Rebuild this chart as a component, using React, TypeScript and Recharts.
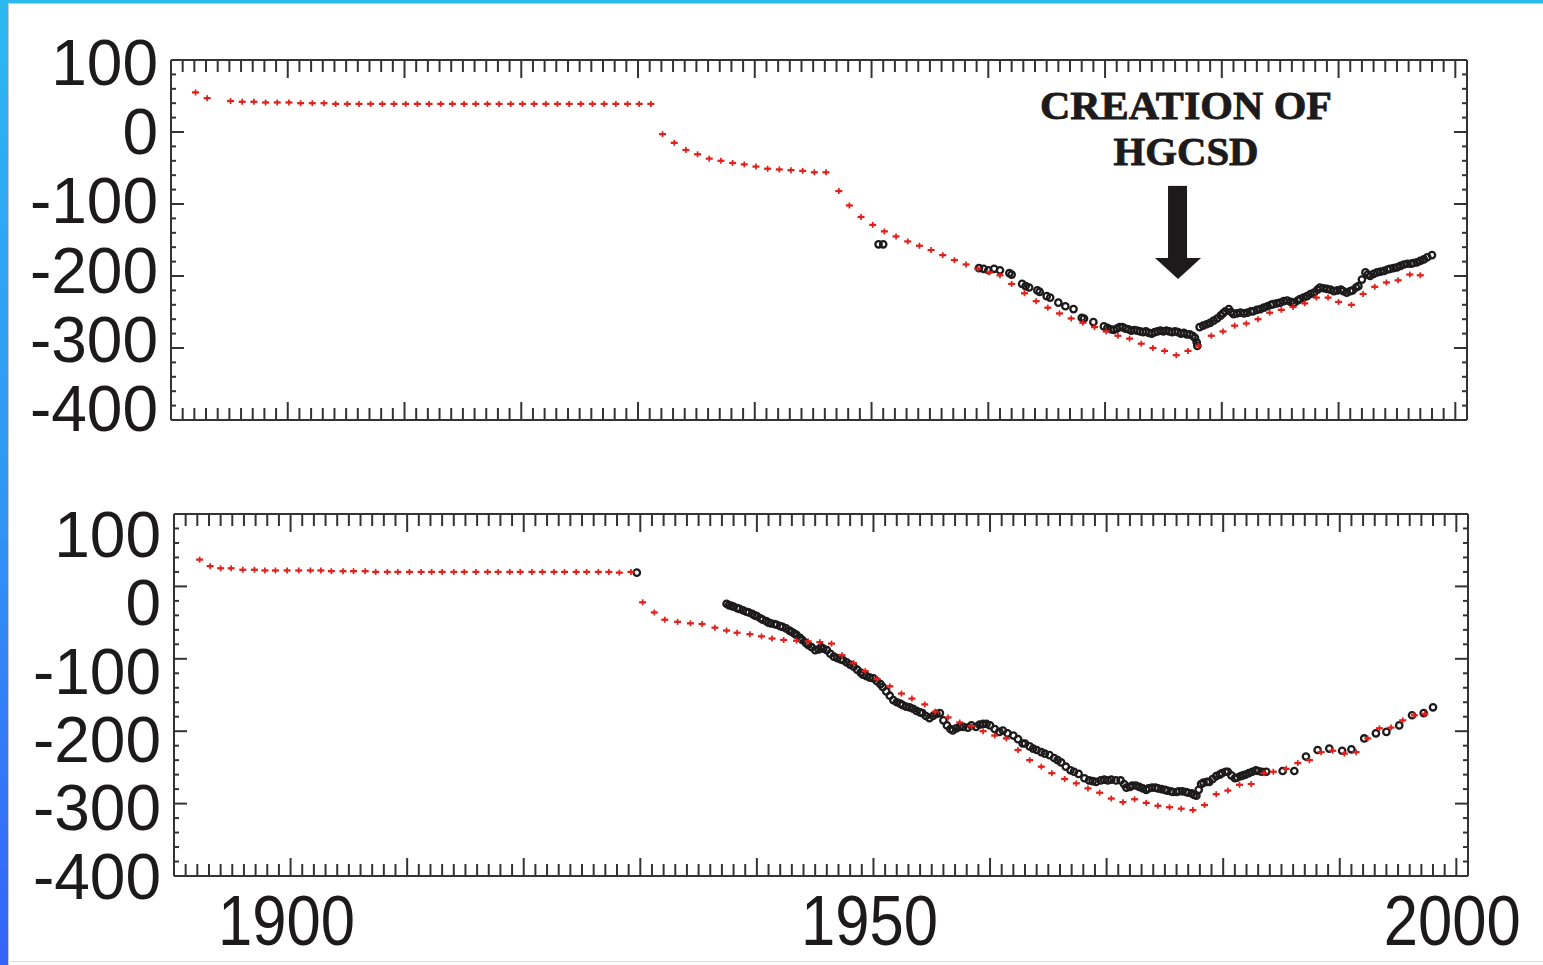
import React from 'react';
import { ScatterChart, Scatter, XAxis, YAxis, ReferenceDot } from 'recharts';

type Pt = [number, number];

// axes: a tick every year (long every decade), a tick every 20 (long every 100)
const yearTicks = Array.from({ length: 110 }, (_, i) => 1891 + i);
const yearLabels = [1900, 1950, 2000];
const valueTicks = [80, 60, 40, 20, 0, -20, -40, -60, -80, -100, -120, -140, -160, -180, -200, -220, -240, -260, -280, -300, -320, -340, -360, -380];
const valueLabels = [100, 0, -100, -200, -300, -400];

const yearDomain = [1890, 2001];
const valueDomain = [-400, 100];
// the printed numbers sit a little off their ticks in the original
const topLabelDomain = [-416.7, 102.3];
const bottomLabelDomain = [-400.4, 129.1];

// top panel: red crosses
const topRed: Pt[] = [
  [1892.1, 55], [1893.1, 47], [1895.1, 43], [1896.1, 42], [1897.1, 42], [1898.1, 41], [1899.1, 41], [1900.1, 41],
  [1901.1, 40], [1902.1, 40], [1903.1, 40], [1904.1, 39], [1905.1, 39], [1906.1, 39], [1907.1, 39], [1908.1, 39],
  [1909.1, 39], [1910.1, 39], [1911.1, 39], [1912.1, 39], [1913.1, 39], [1914.1, 39], [1915.1, 39], [1916.1, 39],
  [1917.1, 39], [1918.1, 39], [1919.1, 39], [1920.1, 39], [1921.1, 39], [1922.1, 39], [1923.1, 39], [1924.1, 39],
  [1925.1, 39], [1926.1, 39], [1927.1, 39], [1928.1, 39], [1929.1, 39], [1930.1, 39], [1931.1, 39],
  [1932.1, -3], [1933.1, -15], [1934.1, -25], [1935.1, -31], [1936.1, -37], [1937.1, -40], [1938.1, -43],
  [1939.1, -45], [1940.1, -48], [1941.1, -51], [1942.1, -52], [1943.1, -53], [1944.1, -54], [1945.1, -56],
  [1946.1, -56], [1947.2, -82], [1948.1, -102], [1949.1, -118], [1950.1, -129], [1951.1, -138], [1952.1, -145],
  [1953.1, -152], [1954.1, -158], [1955.1, -164], [1956.1, -171], [1957.1, -178], [1958.1, -184], [1959.1, -190],
  [1960.1, -195], [1961.0, -199], [1962.0, -211], [1963.1, -224], [1964.1, -235], [1965.1, -244], [1966.1, -252],
  [1967.1, -259], [1968.1, -265], [1969.1, -271], [1970.1, -277], [1971.1, -283], [1972.1, -287], [1973.1, -294],
  [1974.1, -300], [1975.1, -304], [1976.1, -310], [1977.1, -304], [1978.0, -297], [1979.1, -283], [1980.1, -277],
  [1981.1, -269], [1982.1, -266], [1983.1, -260], [1984.1, -251], [1985.1, -247], [1986.1, -243], [1987.1, -238],
  [1988.1, -230], [1989.1, -230], [1990.0, -236], [1991.1, -240], [1992.1, -225], [1993.1, -215], [1994.1, -209],
  [1995.1, -206], [1996.1, -198], [1997.0, -199],
];

// top panel: black circles
const topGauge: Pt[] = [
  [1950.6, -156], [1951.0, -156],
  [1959.2, -189], [1959.6, -190], [1960.0, -192], [1960.5, -190], [1961.0, -192], [1961.8, -196], [1962.0, -198],
  [1962.9, -211], [1963.2, -214], [1963.5, -216], [1964.2, -220], [1964.4, -222], [1965.0, -228], [1965.3, -230],
  [1966.0, -237], [1966.6, -242], [1967.3, -246], [1968.0, -258], [1968.2, -259], [1969.0, -264], [1969.9, -270],
  [1970.2, -272], [1970.5, -274], [1970.75, -275], [1971.0, -273], [1971.25, -271], [1971.5, -271], [1971.75, -273],
  [1972.0, -274], [1972.25, -276], [1972.5, -275], [1972.75, -276], [1973.0, -277], [1973.25, -278], [1973.5, -277],
  [1973.75, -279], [1974.0, -280], [1974.25, -278], [1974.5, -277], [1974.75, -276], [1975.0, -277], [1975.25, -276],
  [1975.5, -277], [1975.75, -278], [1976.0, -277], [1976.25, -278], [1976.5, -280], [1976.75, -279], [1977.0, -281],
  [1977.25, -281], [1977.5, -283], [1977.7, -286], [1977.85, -292], [1977.9, -297],
  [1978.1, -271], [1978.4, -269], [1978.7, -267], [1979.0, -265], [1979.3, -262], [1979.6, -259], [1979.9, -255],
  [1980.1, -252], [1980.3, -249], [1980.6, -246], [1980.8, -250], [1981.0, -253], [1981.3, -252], [1981.6, -251],
  [1981.9, -252], [1982.2, -251], [1982.5, -249], [1982.7, -249], [1983.0, -247], [1983.3, -246], [1983.6, -244],
  [1983.9, -242], [1984.2, -240], [1984.4, -239], [1984.7, -238], [1985.0, -237], [1985.3, -235], [1985.6, -234],
  [1985.9, -236], [1986.2, -237], [1986.5, -234], [1986.7, -232], [1987.0, -230], [1987.3, -228], [1987.6, -225],
  [1987.9, -223], [1988.2, -219], [1988.4, -216], [1988.7, -217], [1989.0, -218], [1989.3, -219], [1989.6, -221],
  [1989.9, -220], [1990.2, -219], [1990.4, -221], [1990.7, -223], [1991.0, -221], [1991.2, -220], [1991.5, -216],
  [1991.7, -214], [1992.0, -205], [1992.3, -195], [1992.5, -198], [1992.7, -200], [1993.0, -197], [1993.3, -195],
  [1993.6, -194], [1993.9, -193], [1994.2, -191], [1994.4, -190], [1994.7, -189], [1995.0, -188], [1995.3, -186],
  [1995.6, -184], [1995.9, -183], [1996.2, -183], [1996.4, -182], [1996.7, -181], [1997.0, -179], [1997.3, -177],
  [1997.6, -174], [1998.0, -171],
];

// bottom panel: red crosses
const bottomRed: Pt[] = [
  [1892.2, 37], [1893.1, 28], [1894.0, 25], [1894.9, 25], [1895.9, 23], [1896.9, 23], [1897.8, 22], [1898.7, 22],
  [1899.7, 22], [1900.7, 22], [1901.7, 22], [1902.6, 22], [1903.5, 21], [1904.5, 21], [1905.4, 21], [1906.4, 21],
  [1907.3, 20], [1908.3, 20], [1909.2, 20], [1910.2, 20], [1911.2, 20], [1912.1, 20], [1913.0, 20], [1914.0, 20],
  [1914.9, 20], [1915.9, 20], [1916.9, 20], [1917.8, 20], [1918.8, 20], [1919.7, 20], [1920.7, 20], [1921.6, 20],
  [1922.6, 20], [1923.5, 20], [1924.5, 20], [1925.4, 20], [1926.4, 20], [1927.3, 20], [1928.2, 19], [1929.2, 20],
  [1930.2, -22], [1931.2, -36], [1932.1, -46], [1933.2, -49], [1934.3, -51], [1935.3, -52], [1936.4, -57],
  [1937.4, -61], [1938.3, -64], [1939.4, -66], [1940.4, -69], [1941.3, -72], [1942.3, -74], [1943.4, -75],
  [1944.4, -76], [1945.4, -77], [1946.4, -79], [1947.3, -95], [1948.3, -106], [1949.3, -117], [1950.3, -128],
  [1951.4, -138], [1952.4, -148], [1953.3, -155], [1954.4, -163], [1955.3, -173], [1956.4, -181], [1957.4, -188],
  [1958.4, -193], [1959.4, -200], [1960.4, -206], [1961.4, -210], [1962.4, -226], [1963.4, -240], [1964.4, -249],
  [1965.3, -258], [1966.4, -266], [1967.4, -272], [1968.4, -279], [1969.4, -285], [1970.4, -293], [1971.4, -298],
  [1972.4, -294], [1973.4, -299], [1974.4, -303], [1975.4, -305], [1976.4, -307], [1977.4, -309], [1978.4, -302],
  [1979.4, -287], [1980.4, -282], [1981.4, -274], [1982.4, -273], [1983.5, -258], [1984.3, -256], [1985.4, -252],
  [1986.4, -244], [1987.4, -240], [1988.4, -229], [1989.4, -227], [1990.4, -231], [1991.4, -229], [1992.4, -210],
  [1993.4, -196], [1994.4, -195], [1995.4, -185], [1996.4, -178], [1997.3, -176],
];

// bottom panel: black circles
const bottomGauge: Pt[] = [
  [1929.7, 19],
  [1937.4, -24], [1937.6, -26], [1937.8, -27], [1938.0, -28], [1938.3, -30], [1938.5, -31], [1938.8, -33],
  [1939.1, -35], [1939.3, -36], [1939.6, -38], [1939.8, -40], [1940.0, -41], [1940.3, -44], [1940.5, -46],
  [1940.8, -48], [1941.0, -50], [1941.2, -51], [1941.5, -52], [1941.7, -53], [1942.0, -55], [1942.2, -56],
  [1942.5, -58], [1942.8, -61], [1943.0, -63], [1943.2, -65], [1943.4, -67], [1943.7, -71], [1943.9, -74],
  [1944.2, -78], [1944.4, -81], [1944.7, -84], [1945.0, -88], [1945.3, -87], [1945.5, -84], [1945.7, -86],
  [1946.0, -88], [1946.3, -93], [1946.6, -97], [1946.9, -99], [1947.2, -101], [1947.4, -102], [1947.7, -105],
  [1948.0, -108], [1948.3, -111], [1948.6, -115], [1948.9, -119], [1949.1, -122], [1949.4, -124], [1949.7, -126],
  [1950.0, -127], [1950.3, -131], [1950.6, -135], [1950.8, -139], [1951.1, -145], [1951.4, -151], [1951.7, -157],
  [1952.0, -160], [1952.3, -162], [1952.5, -164], [1952.8, -166], [1953.1, -167], [1953.4, -169], [1953.7, -172],
  [1954.0, -174], [1954.2, -175], [1954.5, -179], [1954.8, -182], [1955.1, -179], [1955.4, -176], [1955.7, -175],
  [1956.0, -185], [1956.3, -192], [1956.6, -197], [1956.8, -199], [1957.1, -196], [1957.4, -194], [1957.7, -194],
  [1958.1, -195], [1958.4, -192], [1958.8, -194], [1959.1, -191], [1959.4, -190], [1959.7, -190], [1960.0, -192],
  [1960.4, -197], [1960.8, -201], [1961.1, -199], [1961.5, -203], [1962.0, -206], [1962.4, -211], [1962.8, -217],
  [1963.0, -217], [1963.4, -221], [1963.7, -224], [1964.0, -226], [1964.4, -229], [1964.7, -231], [1965.1, -233],
  [1965.5, -237], [1965.8, -240], [1966.1, -243], [1966.5, -249], [1966.9, -254], [1967.2, -256], [1967.6, -259],
  [1968.1, -265], [1968.5, -268], [1968.8, -269], [1969.1, -270], [1969.5, -268], [1969.8, -267], [1970.1, -268],
  [1970.4, -267], [1970.8, -268], [1971.2, -268], [1971.5, -273], [1971.7, -278], [1972.0, -277], [1972.2, -275],
  [1972.5, -275], [1972.8, -277], [1973.1, -279], [1973.4, -281], [1973.6, -279], [1973.9, -278], [1974.2, -278],
  [1974.4, -279], [1974.7, -280], [1975.0, -281], [1975.2, -282], [1975.5, -283], [1975.7, -284], [1976.0, -284],
  [1976.2, -283], [1976.5, -283], [1976.8, -284], [1977.0, -285], [1977.3, -286], [1977.5, -288], [1977.7, -289],
  [1977.9, -281], [1978.1, -273], [1978.3, -271], [1978.6, -270], [1978.8, -270], [1979.1, -266], [1979.4, -262],
  [1979.7, -260], [1979.9, -258], [1980.2, -256], [1980.4, -256], [1980.7, -261], [1981.0, -265], [1981.2, -264],
  [1981.5, -262], [1981.7, -261], [1981.9, -260], [1982.2, -258], [1982.5, -256], [1982.8, -254], [1983.0, -255],
  [1983.3, -256], [1983.7, -256], [1985.1, -255], [1986.1, -255], [1987.1, -235], [1988.1, -226], [1989.1, -224],
  [1990.2, -227], [1991.0, -225], [1992.1, -210], [1993.1, -203], [1994.0, -201], [1995.1, -192], [1996.2, -178],
  [1997.2, -175], [1998.0, -167],
];

const RED = '#e0201c';
const INK = '#1c1a1a';
const AXIS = '#333333';
const SANS = '"Liberation Sans", Arial, sans-serif';

const toRows = (pts: Pt[]) => pts.map(([x, y]) => ({ x, y }));

const Cross = (p: any) => (
  <g>
    <line x1={p.cx - 3.5} x2={p.cx + 3.5} y1={p.cy} y2={p.cy} stroke={RED} strokeWidth={2.3} />
    <line x1={p.cx} x2={p.cx} y1={p.cy - 3} y2={p.cy + 3} stroke={RED} strokeWidth={1.7} />
  </g>
);

const Ring = (p: any) => (
  <circle cx={p.cx} cy={p.cy} r={3.2} fill="none" stroke={INK} strokeWidth={2.3} />
);

// inward tick marks on the x frame; dir -1 = bottom edge, 1 = top edge
const yearTick = (dir: number, labels: boolean) => (p: any) => {
  const v = p.payload.value;
  const len = v % 10 === 0 ? 18 : 12;
  return (
    <g>
      <line x1={p.x} x2={p.x} y1={p.y} y2={p.y + dir * len} stroke={AXIS} strokeWidth={2} />
      {labels && yearLabels.includes(v) && (
        <text x={p.x - 4} y={p.y + 69} textAnchor="middle" fontFamily={SANS} fontSize={70} fill={INK}
          textLength={137} lengthAdjust="spacingAndGlyphs">
          {v}
        </text>
      )}
    </g>
  );
};

// inward tick marks on the y frame; dir 1 = left edge, -1 = right edge
const valueTick = (dir: number) => (p: any) => {
  const len = p.payload.value % 100 === 0 ? 13 : 5;
  return <line x1={p.x} x2={p.x + dir * len} y1={p.y} y2={p.y} stroke={AXIS} strokeWidth={2} />;
};

const valueLabel = (p: any) => (
  <text x={p.x - 12} y={p.y} dy="0.36em" textAnchor="end" fontFamily={SANS} fontSize={64} fill={INK}>
    {p.payload.value}
  </text>
);

const Arrow = (p: any) => {
  const { cx, cy } = p;
  return (
    <g>
      <text x={cx + 8} y={cy - 160} textAnchor="middle" fontFamily='"Liberation Serif", "Times New Roman", serif'
        fontWeight="bold" fontSize={40} fill={INK} stroke={INK} strokeWidth={0.8} textLength={292} lengthAdjust="spacingAndGlyphs">
        CREATION OF
      </text>
      <text x={cx + 8} y={cy - 114} textAnchor="middle" fontFamily='"Liberation Serif", "Times New Roman", serif'
        fontWeight="bold" fontSize={40} fill={INK} stroke={INK} strokeWidth={0.8} textLength={145} lengthAdjust="spacingAndGlyphs">
        HGCSD
      </text>
      <rect x={cx - 10} y={cy - 93} width={19} height={73} fill={INK} />
      <polygon points={`${cx - 23},${cy - 21} ${cx + 23},${cy - 21} ${cx},${cy}`} fill={INK} />
    </g>
  );
};

type PanelProps = {
  width: number;
  height: number;
  margin: { top: number; right: number; bottom: number; left: number };
  red: Pt[];
  gauge: Pt[];
  labelDomain: number[];
  showYears: boolean;
  note?: React.ReactNode;
};

// axes get a 1px box (a 0px one is not drawn), so margins are 1px short of the frame.
// both x axes and both y axes share one domain; the circles are drawn on the top/right pair.
function Panel({ width, height, margin, red, gauge, labelDomain, showYears, note }: PanelProps) {
  const frame = { stroke: AXIS, strokeWidth: 2 };
  return (
    <ScatterChart width={width} height={height} margin={margin}>
      <XAxis xAxisId="b" type="number" dataKey="x" orientation="bottom" domain={yearDomain} allowDataOverflow
        ticks={yearTicks} interval={0} height={1} tickSize={0} tickMargin={0} tickLine={false} axisLine={frame}
        tick={yearTick(-1, showYears)} />
      <XAxis xAxisId="t" type="number" dataKey="x" orientation="top" domain={yearDomain} allowDataOverflow
        ticks={yearTicks} interval={0} height={1} tickSize={0} tickMargin={0} tickLine={false} axisLine={frame}
        tick={yearTick(1, false)} />
      <YAxis yAxisId="l" type="number" dataKey="y" orientation="left" domain={valueDomain} allowDataOverflow
        ticks={valueTicks} interval={0} width={1} tickSize={0} tickMargin={0} tickLine={false} axisLine={frame}
        tick={valueTick(1)} />
      <YAxis yAxisId="r" type="number" dataKey="y" orientation="right" domain={valueDomain} allowDataOverflow
        ticks={valueTicks} interval={0} width={1} tickSize={0} tickMargin={0} tickLine={false} axisLine={frame}
        tick={valueTick(-1)} />
      <YAxis yAxisId="lab" type="number" orientation="left" domain={labelDomain} allowDataOverflow
        ticks={valueLabels} interval={0} width={1} tickSize={0} tickMargin={0} tickLine={false} axisLine={false}
        tick={valueLabel} />
      <Scatter xAxisId="t" yAxisId="r" data={toRows(gauge)} shape={Ring} isAnimationActive={false} />
      <Scatter xAxisId="b" yAxisId="l" data={toRows(red)} shape={Cross} isAnimationActive={false} />
      {note}
    </ScatterChart>
  );
}

export default function App() {
  return (
    <div style={{ position: 'absolute', left: 0, top: 0, width: 1543, height: 965, background: '#fff', overflow: 'hidden' }}>
      <div style={{ position: 'absolute', left: 0, top: 0, width: 1543, height: 3, background: '#2db8f0' }} />
      <div style={{ position: 'absolute', left: 8, top: 3, width: 1535, height: 1, background: '#c9c9c9' }} />
      <div style={{ position: 'absolute', left: 0, top: 0, width: 8, height: 965, background: 'linear-gradient(#2cb8f0, #3093f5 55%, #3463f8)' }} />
      <div style={{ position: 'absolute', left: 8, top: 3, width: 1, height: 962, background: '#c9c9c9' }} />
      <div style={{ position: 'absolute', left: 8, top: 961, width: 1535, height: 1, background: '#dddddd' }} />

      <div style={{ position: 'absolute', left: 0, top: 0 }}>
        <Panel width={1543} height={480} margin={{ top: 59, right: 75, bottom: 59, left: 169 }}
          red={topRed} gauge={topGauge} labelDomain={topLabelDomain} showYears={false}
          note={<ReferenceDot xAxisId="b" yAxisId="l" x={1976.25} y={-204} shape={Arrow} />} />
      </div>
      <div style={{ position: 'absolute', left: 0, top: 480 }}>
        <Panel width={1543} height={485} margin={{ top: 33, right: 74, bottom: 88, left: 172 }}
          red={bottomRed} gauge={bottomGauge} labelDomain={bottomLabelDomain} showYears />
      </div>
    </div>
  );
}
